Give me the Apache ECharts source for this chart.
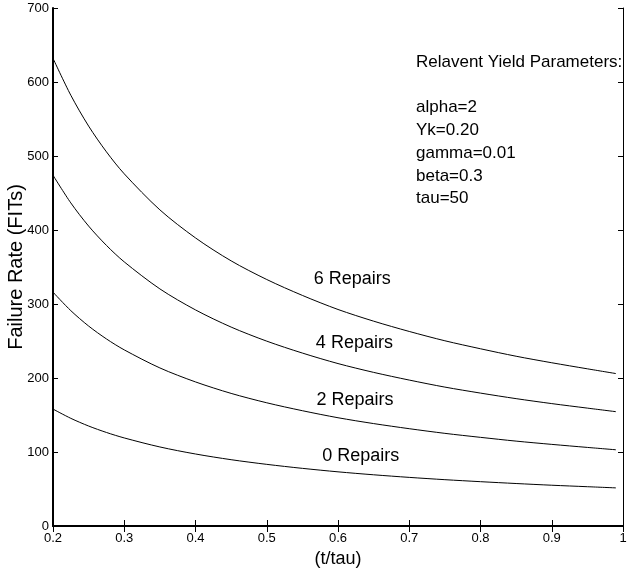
<!DOCTYPE html>
<html>
<head>
<meta charset="utf-8">
<script src="https://cdn.jsdelivr.net/npm/echarts@6/dist/echarts.min.js"></script>
<style>
  html, body { margin: 0; padding: 0; background: #fff; }
  #chart { width: 632px; height: 573px; }
</style>
</head>
<body>
<div id="chart"></div>
<script>
// values
var xVals = [0.2, 0.225, 0.25, 0.275, 0.3, 0.35, 0.4, 0.45, 0.5, 0.55, 0.6, 0.65, 0.7, 0.75, 0.8, 0.85, 0.9, 0.95, 0.99];
var rep0 = [158, 145.5, 135.1, 126.4, 119.0, 106.8, 97.3, 89.6, 83.3, 77.9, 73.2, 69.2, 65.7, 62.6, 59.9, 57.4, 55.1, 53.1, 51.5];
var rep2 = [316, 291.0, 270.2, 252.8, 238.0, 213.6, 194.7, 179.2, 166.5, 155.8, 146.3, 138.4, 131.5, 125.2, 119.8, 114.7, 110.3, 106.2, 103];
var rep4 = [474, 436.6, 405.3, 379.2, 356.9, 320.4, 292.0, 268.8, 249.8, 233.7, 219.5, 207.6, 197.2, 187.7, 179.6, 172.1, 165.4, 159.3, 154.5];
var rep6 = [632, 582.1, 540.4, 505.6, 475.9, 427.2, 389.3, 358.3, 333.1, 311.6, 292.6, 276.8, 262.9, 250.3, 239.5, 229.4, 220.6, 212.4, 206];

var labelText = ['6 Repairs', '4 Repairs', '2 Repairs', '0 Repairs'];
var labelX = [0.620, 0.623, 0.624, 0.632];
var labelY = [334, 247, 170, 95];

var paramLines = ['Relavent Yield Parameters:', '', 'alpha=2', 'Yk=0.20', 'gamma=0.01', 'beta=0.3', 'tau=50'];

var font = '"Liberation Sans", Arial, Helvetica, sans-serif';

function pairs(ys) {
    return xVals.map(function (x, i) { return [x, ys[i]]; });
}

function curve(name, ys) {
    return {
        name: name,
        type: 'line',
        data: pairs(ys),
        smooth: 0.3,
        symbol: 'none',
        lineStyle: { color: '#000', width: 1 },
        silent: true
    };
}

var chart = echarts.init(document.getElementById('chart'));

var option = {
    animation: false,
    backgroundColor: '#fff',
    grid: { left: 53, right: 9, top: 8, bottom: 47, containLabel: false, outerBoundsMode: 'none' },
    xAxis: [
        {
            type: 'value',
            min: 0.2,
            max: 1,
            interval: 0.1,
            name: '(t/tau)',
            nameLocation: 'middle',
            nameGap: 24,
            nameMoveOverlap: false,
            nameTextStyle: { color: '#000', fontSize: 18, fontFamily: font },
            axisLine: { show: true, lineStyle: { color: '#000', width: 2 } },
            axisTick: { show: true, inside: true, length: 6, lineStyle: { color: '#000' } },
            axisLabel: {
                color: '#000', fontSize: 13, fontFamily: font, margin: 6,
                formatter: function (v) { return v >= 0.999 ? '1' : v.toFixed(1); }
            },
            splitLine: { show: false }
        },
        {
            type: 'value',
            position: 'top',
            min: 0.2,
            max: 1,
            interval: 0.1,
            axisLine: { show: true, lineStyle: { color: '#000', width: 1 } },
            axisTick: { show: true, inside: true, length: 6, lineStyle: { color: '#000' } },
            axisLabel: { show: false },
            splitLine: { show: false }
        }
    ],
    yAxis: [
        {
            type: 'value',
            min: 0,
            max: 700,
            interval: 100,
            name: 'Failure Rate (FITs)',
            nameLocation: 'middle',
            nameGap: 27,
            nameMoveOverlap: false,
            nameTextStyle: { color: '#000', fontSize: 20, fontFamily: font },
            axisLine: { show: true, lineStyle: { color: '#000', width: 2 } },
            axisTick: { show: true, inside: true, length: 5, lineStyle: { color: '#000' } },
            axisLabel: { color: '#000', fontSize: 13, fontFamily: font, margin: 4 },
            splitLine: { show: false }
        },
        {
            type: 'value',
            position: 'right',
            min: 0,
            max: 700,
            interval: 100,
            axisLine: { show: true, lineStyle: { color: '#000', width: 1 } },
            axisTick: { show: true, inside: true, length: 5, lineStyle: { color: '#000' } },
            axisLabel: { show: false },
            splitLine: { show: false }
        }
    ],
    series: [
        curve('0 Repairs', rep0),
        curve('2 Repairs', rep2),
        curve('4 Repairs', rep4),
        curve('6 Repairs', rep6),
        {
            type: 'scatter',
            symbolSize: 0,
            silent: true,
            itemStyle: { opacity: 1 },
            data: labelText.map(function (t, i) { return { value: [labelX[i], labelY[i]], name: t }; }),
            label: {
                show: true,
                position: 'inside',
                formatter: '{b}',
                color: '#000',
                opacity: 1,
                textBorderWidth: 0,
                fontSize: 18,
                fontFamily: font
            }
        }
    ],
    graphic: [
        {
            type: 'text',
            left: 416,
            top: 51,
            silent: true,
            style: {
                text: paramLines.join('\n'),
                fill: '#000',
                fontSize: 17,
                fontFamily: font,
                lineHeight: 22.7
            }
        }
    ]
};

chart.setOption(option);
</script>
</body>
</html>
